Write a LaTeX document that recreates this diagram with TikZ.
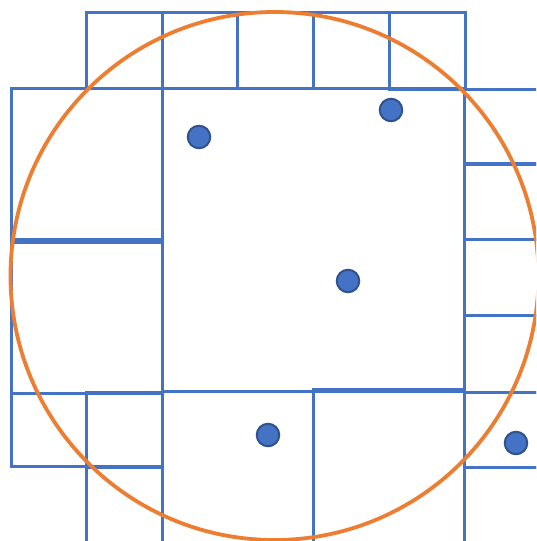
\documentclass[tikz,border=0pt]{standalone}
\definecolor{cellblue}{HTML}{4472C4}
\definecolor{dotedge}{HTML}{2F528F}
\definecolor{ringorange}{HTML}{ED7D31}
\tikzset{
  cell/.style={draw=cellblue, line width=3pt},
  ring/.style={draw=ringorange, line width=3.8pt},
  pt/.style={circle, fill=cellblue, draw=dotedge, line width=2pt, minimum size=22.5pt, inner sep=0pt}
}
\begin{document}
\begin{tikzpicture}[x=1pt,y=-1pt]
\useasboundingbox (0,0) rectangle (536,541);
\clip (0,0) rectangle (536,541);
% top row
\draw[cell] (86,12) rectangle (162,88);
\draw[cell] (162,12) rectangle (237,88);
\draw[cell] (237,12) rectangle (313,88);
\draw[cell] (313,12) rectangle (389,88);
\draw[cell] (389,12) rectangle (465,89);
% left column
\draw[cell] (11,88) rectangle (162,239);
\draw[cell] (11,242) rectangle (162,393);
\draw[cell] (11,393) rectangle (86,466);
\draw[cell] (86,392) rectangle (162,466);
\draw[cell] (86,467) rectangle (162,545);
% centre
\draw[cell] (162,88) rectangle (464,391);
% bottom
\draw[cell] (162,391) rectangle (313,545);
\draw[cell] (313,389) rectangle (464,545);
% right column
\draw[cell] (464,89) rectangle (545,163);
\draw[cell] (464,164) rectangle (545,239);
\draw[cell] (464,239) rectangle (545,315);
\draw[cell] (464,315) rectangle (545,392);
\draw[cell] (464,392) rectangle (545,467);
\draw[cell] (464,467) rectangle (545,545);
% circle
\draw[ring] (274.5,276) circle (264);
% points
\node[pt] (p1) at (199,137) {};
\node[pt] (p2) at (391,110) {};
\node[pt] (p3) at (348,281) {};
\node[pt] (p4) at (268,435) {};
\node[pt] (p5) at (516,443) {};
\end{tikzpicture}
\end{document}
